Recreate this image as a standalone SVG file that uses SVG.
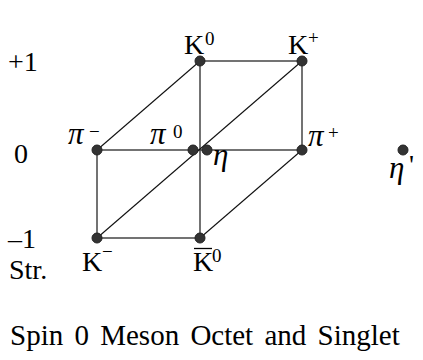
<svg xmlns="http://www.w3.org/2000/svg" width="423" height="360" viewBox="0 0 423 360">
<style>
text{font-family:"Liberation Serif","Times New Roman",serif;fill:#000}
.t{font-size:28px}
.s{font-size:19px}
.i{font-style:italic;font-size:31px}
.e line{stroke:#444;stroke-width:1.5}
.e line.d{stroke:#111;stroke-width:1.1}
.n circle{fill:#333;stroke:#222;stroke-width:1}
</style>
<rect width="423" height="360" fill="#fff"/>
<g id="axis">
<text class="t" x="8" y="71">+1</text>
<text class="t" x="14" y="163">0</text>
<text class="t" x="8" y="248">–1</text>
<text class="t" x="9" y="279">Str.</text>
</g>
<g id="connectors" class="e">
<line x1="200" y1="61" x2="302" y2="61"/>
<line x1="200" y1="61" x2="200" y2="238"/>
<line x1="302" y1="61" x2="302" y2="150"/>
<line x1="97" y1="150" x2="302" y2="150"/>
<line x1="97" y1="150" x2="97" y2="238"/>
<line x1="97" y1="238" x2="200" y2="238"/>
<line class="d" x1="97" y1="150" x2="200" y2="61"/>
<line class="d" x1="97" y1="238" x2="302" y2="61"/>
<line class="d" x1="200" y1="238" x2="302" y2="150"/>
</g>
<g id="K0" class="n"><circle cx="200" cy="61" r="5"/><text class="t" x="184" y="54">K</text><text class="s" x="205" y="45">0</text></g>
<g id="Kplus" class="n"><circle cx="302" cy="61" r="5"/><text class="t" x="288" y="54">K</text><text class="s" x="308" y="44">+</text></g>
<g id="piminus" class="n"><circle cx="97" cy="150" r="5"/><text class="t i" x="68" y="144">π</text><text class="s" x="89" y="138">−</text></g>
<g id="pi0" class="n"><circle cx="193" cy="150" r="5"/><text class="t i" x="150" y="144">π</text><text class="s" x="173" y="138">0</text></g>
<g id="eta" class="n"><circle cx="207" cy="150" r="5"/><text class="t i" x="213" y="165">η</text></g>
<g id="piplus" class="n"><circle cx="302" cy="150" r="5"/><text class="t i" x="308" y="146">π</text><text class="s" x="328" y="139">+</text></g>
<g id="Kminus" class="n"><circle cx="97" cy="238" r="5"/><text class="t" x="82" y="271">K</text><text class="s" x="102" y="258">−</text></g>
<g id="Kbar0" class="n"><circle cx="200" cy="238" r="5"/><text class="t" x="193" y="271">K</text><line x1="194" y1="248.5" x2="212" y2="248.5" stroke="#000" stroke-width="1.3"/><text class="s" x="212" y="262">0</text></g>
<g id="etaprime" class="n"><circle cx="403" cy="150" r="5"/><text class="t i" x="389" y="178">η</text><text class="t" x="409" y="174">'</text></g>
<g id="title"><text class="t" x="10" y="345" style="font-size:29px;word-spacing:4px">Spin 0 Meson Octet and Singlet</text></g>
</svg>
